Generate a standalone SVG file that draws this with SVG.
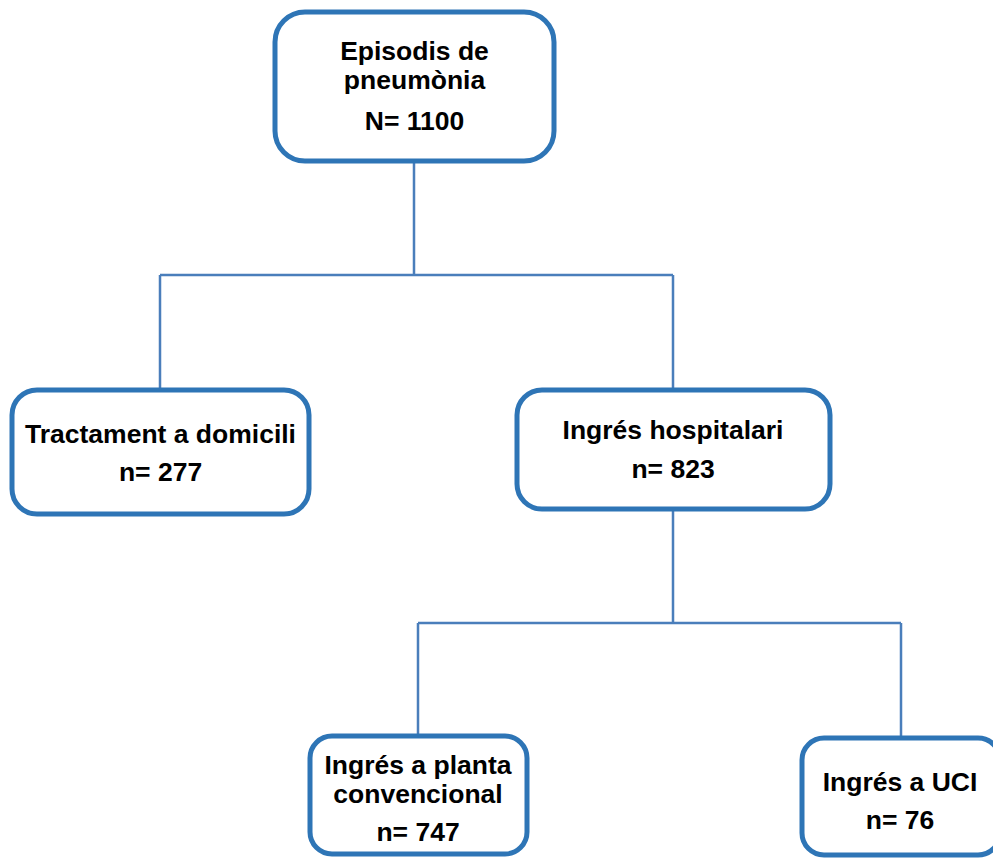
<svg xmlns="http://www.w3.org/2000/svg" width="993" height="860" viewBox="0 0 993 860">
<style>
.box{fill:#fff;stroke:#2E75B6;stroke-width:5}
.con{fill:none;stroke:#4A7EBB;stroke-width:2.5}
text{font-family:"Liberation Sans",Arial,sans-serif;font-weight:bold;font-size:26.5px;fill:#000;text-anchor:middle}
</style>
<rect width="993" height="860" fill="#fff"/>
<g id="connectors">
<path class="con" d="M414,163V275M160,275H673M160,275V388M673,275V388"/>
<path class="con" d="M673,510V623M418,623H901M418,623V734M901,623V736"/>
</g>
<g id="n1">
<rect class="box" x="275" y="12" width="279" height="149" rx="30"/>
<text x="414.5" y="60">Episodis de</text>
<text x="414.5" y="89">pneumònia</text>
<text x="414.5" y="130">N= 1100</text>
</g>
<g id="n2">
<rect class="box" x="12" y="390" width="297" height="124" rx="25"/>
<text x="160.5" y="443">Tractament a domicili</text>
<text x="160.5" y="481">n= 277</text>
</g>
<g id="n3">
<rect class="box" x="517" y="390" width="313" height="119" rx="25"/>
<text x="673" y="439">Ingrés hospitalari</text>
<text x="673" y="478">n= 823</text>
</g>
<g id="n4">
<rect class="box" x="310" y="736" width="217" height="118" rx="22"/>
<text x="418" y="774">Ingrés a planta</text>
<text x="418" y="803">convencional</text>
<text x="418" y="841">n= 747</text>
</g>
<g id="n5">
<rect class="box" x="802" y="738" width="198" height="117" rx="22"/>
<text x="900" y="791">Ingrés a UCI</text>
<text x="900" y="829">n= 76</text>
</g>
</svg>
